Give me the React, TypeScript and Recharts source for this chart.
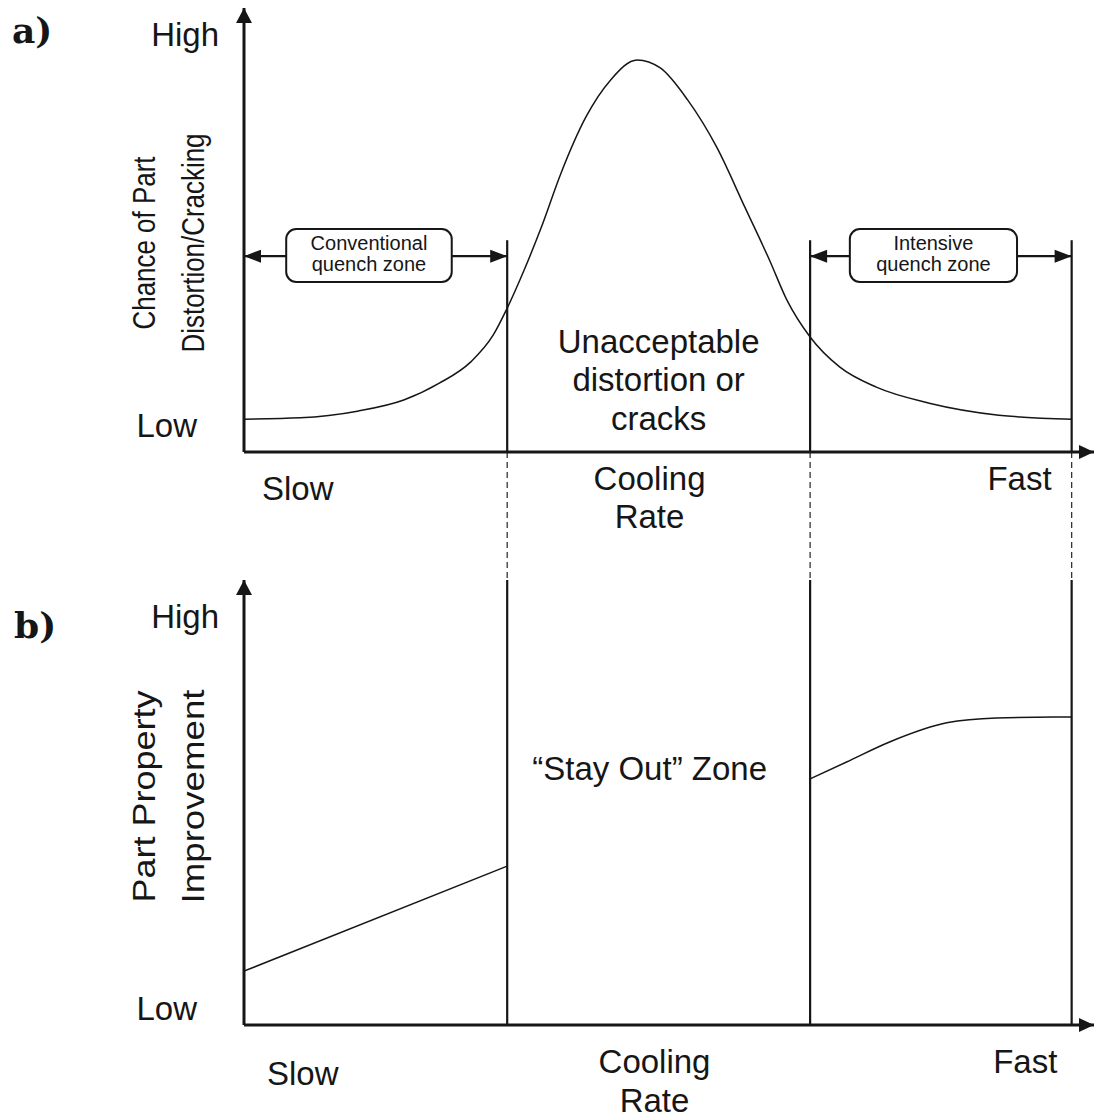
import React from 'react'
import {
  LineChart, Line, XAxis, YAxis, ReferenceLine, ReferenceArea, ReferenceDot,
} from 'recharts'

const INK = '#161616'
const SANS = '"Liberation Sans", Arial, Helvetica, sans-serif'
const SERIF = '"DejaVu Serif", "Liberation Serif", serif'

// cooling rate runs 0 (slow) .. 10 (fastest marked); the axis arrow goes a bit past
const X_MAX = 10.27
const Y_MAX = 10

// a) chance of part distortion / cracking
const distortionRate = [0, 0.68, 1.37, 1.93, 2.36, 2.74, 3.01, 3.18, 3.39, 3.59, 3.83, 4.13, 4.43, 4.75, 5.03, 5.36, 5.71, 6.05, 6.35, 6.56, 6.84, 7.2, 7.64, 8.28, 9.12, 10]
const distortionChance = [0.74, 0.77, 0.92, 1.17, 1.55, 2.03, 2.63, 3.24, 4.12, 5.05, 6.28, 7.54, 8.38, 8.83, 8.65, 7.93, 6.87, 5.52, 4.32, 3.42, 2.59, 1.91, 1.46, 1.1, 0.83, 0.74]

// b) part property improvement (nothing inside the stay out zone)
const conventionalRate = [0, 3.18]
const conventionalGain = [1.21, 3.57]
const intensiveRate = [6.84, 7.28, 7.8, 8.49, 9.09, 9.79, 10]
const intensiveGain = [5.53, 5.91, 6.36, 6.79, 6.9, 6.92, 6.92]

// zone boundaries on the cooling rate axis
const zoneEdges = [3.18, 6.84, 10]
const quenchZones = ['Conventional\nquench zone', 'Intensive\nquench zone']
const zoneFrom = [0, zoneEdges[1]]
const zoneTo = [zoneEdges[0], zoneEdges[2]]

// tick labels
const rateLabels = ['Slow', 'Cooling\nRate', 'Fast']
const rateTicksA = [0.65, 4.9, 9.37]
const rateTicksB = [0.71, 4.96, 9.44]
const levelLabels = ['Low', 'High']
const levelTicksA = [0.59, 9.41]
const levelTicksB = [0.36, 9.18]

const distortionData = distortionRate.map((x, i) => ({ x, y: distortionChance[i] }))
const conventionalData = conventionalRate.map((x, i) => ({ x, y: conventionalGain[i] }))
const intensiveData = intensiveRate.map((x, i) => ({ x, y: intensiveGain[i] }))

// layout of the annotations (in axis units)
const ZONE_LINE_TOP = 4.77
const DASH_END = -2.84
const ARROW_Y = 4.41
const boxLeft = [0.51, 7.32]
const boxRight = [2.51, 9.34]
const BOX_BOTTOM = 3.83
const BOX_TOP = 5.02

const levelGap: Record<string, number> = { Low: 47, High: 25 }

const RateTick = ({ x, y, index, firstLine, gap }: any) => {
  const lines = rateLabels[index].split('\n')
  return (
    <text textAnchor="middle" fontFamily={SANS} fontSize={33} fill={INK}>
      {lines.map((t, i) => (
        <tspan key={t} x={x} y={y + firstLine[index] + i * gap}>{t}</tspan>
      ))}
    </text>
  )
}

const LevelTick = ({ x, y, index }: any) => {
  const t = levelLabels[index]
  return (
    <text x={x - levelGap[t]} y={y + 11.5} textAnchor="end" fontFamily={SANS} fontSize={33} fill={INK}>
      {t}
    </text>
  )
}

const AxisTitle = ({ viewBox, lines, lengths, shift }: any) => {
  const axisX = viewBox.x + viewBox.width
  const cy = viewBox.y + viewBox.height / 2 + shift
  return (
    <g>
      {lines.map((t: string, i: number) => {
        const bx = axisX - [89, 40][i]
        return (
          <text
            key={t} x={bx} y={cy} transform={`rotate(-90 ${bx} ${cy})`}
            textAnchor="middle" textLength={lengths[i]} lengthAdjust="spacingAndGlyphs"
            fontFamily={SANS} fontSize={31} fill={INK}
          >
            {t}
          </text>
        )
      })}
    </g>
  )
}

const ZoneNote = ({ viewBox, lines, gap, dx = 0 }: any) => {
  const cx = viewBox.x + viewBox.width / 2 + dx
  return (
    <text textAnchor="middle" fontFamily={SANS} fontSize={33} fill={INK}>
      {lines.map((t: string, i: number) => (
        <tspan key={t} x={cx} y={viewBox.y + 23 + i * gap}>{t}</tspan>
      ))}
    </text>
  )
}

// two separate text rows inside the rounded zone boxes
const BoxText = ({ viewBox, text }: any) => {
  const cx = viewBox.x + viewBox.width / 2
  return (
    <g>
      {text.split('\n').map((t: string, i: number) => (
        <text key={t} x={cx} y={viewBox.y + 21 + i * 21} textAnchor="middle" fontFamily={SANS} fontSize={20} fill={INK}>
          {t}
        </text>
      ))}
    </g>
  )
}

const RoundBox = ({ x, y, width, height }: any) => (
  <rect x={x} y={y} width={width} height={height} rx={10} ry={10} fill="#fff" stroke={INK} strokeWidth={2} />
)

const Arrow = ({ x1, y1, x2, y2, head }: any) => {
  const tipX = head === 'start' ? x1 : x2
  const d = head === 'start' ? 17 : -17
  return (
    <g>
      <line x1={x1} y1={y1} x2={x2} y2={y2} stroke={INK} strokeWidth={2.2} />
      <polygon points={`${tipX},${y1} ${tipX + d},${y1 - 6.5} ${tipX + d},${y1 + 6.5}`} fill={INK} />
    </g>
  )
}

const XHead = ({ cx, cy }: any) => (
  <polygon points={`${cx},${cy} ${cx - 15},${cy - 7} ${cx - 15},${cy + 7}`} fill={INK} />
)
const YHead = ({ cx, cy }: any) => (
  <polygon points={`${cx},${cy} ${cx - 8},${cy + 15} ${cx + 8},${cy + 15}`} fill={INK} />
)

const axisLine = { stroke: INK, strokeWidth: 3 }

export default function App() {
  return (
    <div style={{ position: 'absolute', left: 0, top: 0, width: 1094, height: 1119, background: '#fff' }}>
      <div style={{ position: 'absolute', left: 0, top: 0 }}>
        <LineChart width={1094} height={590} margin={{ top: 8, right: 0, bottom: 98, left: 184 }}>
          <XAxis
            type="number" dataKey="x" domain={[0, X_MAX]} allowDataOverflow
            ticks={rateTicksA} interval={0} tickLine={false} tickSize={0} tickMargin={0}
            height={40} axisLine={axisLine} tick={<RateTick firstLine={[48, 38, 38]} gap={38} />}
          />
          <YAxis
            type="number" domain={[0, Y_MAX]} allowDataOverflow
            ticks={levelTicksA} interval={0} tickLine={false} tickSize={0} tickMargin={0}
            width={60} axisLine={axisLine} tick={<LevelTick />}
            label={<AxisTitle lines={['Chance of Part', 'Distortion/Cracking']} lengths={[173, 219]} shift={13} />}
          />
          {zoneEdges.map((e) => (
            <ReferenceLine
              key={`z${e}`} segment={[{ x: e, y: 0 }, { x: e, y: ZONE_LINE_TOP }]}
              stroke={INK} strokeWidth={2.2} ifOverflow="visible"
            />
          ))}
          {zoneEdges.map((e) => (
            <ReferenceLine
              key={`d${e}`} segment={[{ x: e, y: 0 }, { x: e, y: DASH_END }]}
              stroke="#333" strokeWidth={1.3} strokeDasharray="6 4" ifOverflow="visible"
            />
          ))}
          {quenchZones.map((z, i) => (
            <ReferenceLine
              key={`a${i}`} segment={[{ x: zoneFrom[i], y: ARROW_Y }, { x: boxLeft[i], y: ARROW_Y }]}
              ifOverflow="visible" shape={(p: any) => <Arrow {...p} head="start" />}
            />
          ))}
          {quenchZones.map((z, i) => (
            <ReferenceLine
              key={`b${i}`} segment={[{ x: boxRight[i], y: ARROW_Y }, { x: zoneTo[i], y: ARROW_Y }]}
              ifOverflow="visible" shape={(p: any) => <Arrow {...p} head="end" />}
            />
          ))}
          {quenchZones.map((z, i) => (
            <ReferenceArea
              key={z} x1={boxLeft[i]} x2={boxRight[i]} y1={BOX_BOTTOM} y2={BOX_TOP}
              ifOverflow="visible" shape={RoundBox} label={<BoxText text={z} />}
            />
          ))}
          <ReferenceArea
            x1={zoneEdges[0]} x2={zoneEdges[1]} y1={0.54} y2={2.75}
            fillOpacity={0} strokeOpacity={0}
            label={<ZoneNote lines={['Unacceptable', 'distortion or', 'cracks']} gap={38.5} />}
          />
          <Line
            data={distortionData} dataKey="y" type="monotone" stroke={INK} strokeWidth={1.5}
            dot={false} activeDot={false} isAnimationActive={false}
          />
          <ReferenceDot x={X_MAX} y={0} ifOverflow="visible" shape={XHead} />
          <ReferenceDot x={0} y={Y_MAX} ifOverflow="visible" shape={YHead} />
          <text x={12} y={43} fontFamily={SERIF} fontSize={36} fontWeight="bold" fill={INK}>a)</text>
        </LineChart>
      </div>

      <div style={{ position: 'absolute', left: 0, top: 560 }}>
        <LineChart width={1094} height={559} margin={{ top: 20, right: 0, bottom: 54, left: 184 }}>
          <XAxis
            type="number" dataKey="x" domain={[0, X_MAX]} allowDataOverflow
            ticks={rateTicksB} interval={0} tickLine={false} tickSize={0} tickMargin={0}
            height={40} axisLine={axisLine} tick={<RateTick firstLine={[60, 48, 48]} gap={39} />}
          />
          <YAxis
            type="number" domain={[0, Y_MAX]} allowDataOverflow
            ticks={levelTicksB} interval={0} tickLine={false} tickSize={0} tickMargin={0}
            width={60} axisLine={axisLine} tick={<LevelTick />}
            label={<AxisTitle lines={['Part Property', 'Improvement']} lengths={[212, 214]} shift={-6} />}
          />
          {zoneEdges.map((e) => (
            <ReferenceLine key={`z${e}`} x={e} stroke={INK} strokeWidth={2.2} ifOverflow="visible" />
          ))}
          <ReferenceArea
            x1={zoneEdges[0]} x2={zoneEdges[1]} y1={5.53} y2={6.02}
            fillOpacity={0} strokeOpacity={0}
            label={<ZoneNote lines={['\u201cStay Out\u201d Zone']} gap={38} dx={-9} />}
          />
          <Line
            data={conventionalData} dataKey="y" type="linear" stroke={INK} strokeWidth={1.5}
            dot={false} activeDot={false} isAnimationActive={false}
          />
          <Line
            data={intensiveData} dataKey="y" type="monotone" stroke={INK} strokeWidth={1.5}
            dot={false} activeDot={false} isAnimationActive={false}
          />
          <ReferenceDot x={X_MAX} y={0} ifOverflow="visible" shape={XHead} />
          <ReferenceDot x={0} y={Y_MAX} ifOverflow="visible" shape={YHead} />
          <text x={14} y={78} fontFamily={SERIF} fontSize={36} fontWeight="bold" fill={INK}>b)</text>
        </LineChart>
      </div>
    </div>
  )
}
